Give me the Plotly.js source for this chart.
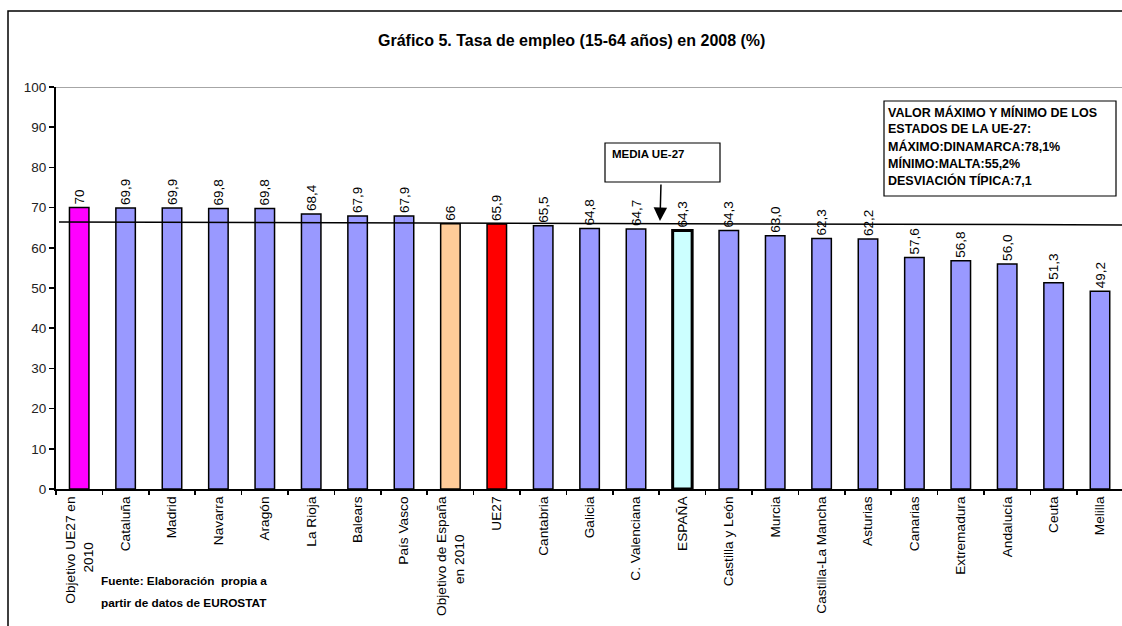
<!DOCTYPE html>
<html>
<head>
<meta charset="utf-8">
<script src="https://cdn.plot.ly/plotly-3.0.1.min.js"></script>
<style>html,body{margin:0;padding:0;background:#fff;overflow:hidden}</style>
</head>
<body>
<div id="chart" style="width:1122px;height:626px"></div>
<script>
const NB = "\u00A0";
const categories = ["Objetivo UE27 en<br>2010" + NB.repeat(12),"Cataluña","Madrid","Navarra","Aragón","La Rioja","Balears","País Vasco","Objetivo de España<br>en 2010" + NB.repeat(10),"UE27","Cantabria","Galicia","C. Valenciana","ESPAÑA","Castilla y León","Murcia","Castilla-La Mancha","Asturias","Canarias","Extremadura","Andalucía","Ceuta","Melilla"];
const values = [70,69.9,69.9,69.8,69.8,68.4,67.9,67.9,66,65.9,65.5,64.8,64.7,64.3,64.3,63.0,62.3,62.2,57.6,56.8,56.0,51.3,49.2];
const valueLabels = ["70","69,9","69,9","69,8","69,8","68,4","67,9","67,9","66","65,9","65,5","64,8","64,7","64,3","64,3","63,0","62,3","62,2","57,6","56,8","56,0","51,3","49,2"];
const mediaLine = [66.4, 65.7];
const yTicks = [0,10,20,30,40,50,60,70,80,90,100];
const titleText = "Gráfico 5. Tasa de empleo (15-64 años) en 2008 (%)";
const boxLines = ["VALOR MÁXIMO Y MÍNIMO DE LOS","ESTADOS DE LA UE-27:","MÁXIMO:DINAMARCA:78,1%","MÍNIMO:MALTA:55,2%","DESVIACIÓN TÍPICA:7,1"];
const sourceLines = ["Fuente: Elaboración  propia a","partir de datos de EUROSTAT"];

const colors = categories.map((c,i) => {
  if (i === 0) return "#FF00FF";
  if (c.startsWith("Objetivo de España")) return "#FFCC99";
  if (c === "UE27") return "#FF0000";
  if (c === "ESPAÑA") return "#CCFFFF";
  return "#9999FF";
});
const lineWidths = categories.map(c => c === "ESPAÑA" ? 3 : 1.5);

const W = 1122, H = 626, ML = 56, MR = 0, MT = 87, MB = 137;
const PW = W - ML - MR, PH = H - MT - MB;
const px = x => (x - ML) / PW;
const py = y => (H - MB - y) / PH;
const FONT = "'Liberation Sans', Arial, sans-serif";

const trace = {
  type: "bar",
  x: categories.map((c,i)=>i),
  y: values,
  width: 0.42,
  marker: {color: colors, line: {color: "#000", width: lineWidths}},
  text: valueLabels,
  textposition: "outside",
  textangle: -90,
  constraintext: "none",
  cliponaxis: false,
  textfont: {family: FONT, size: 13.5, color: "#000"},
  hoverinfo: "skip"
};

const annotations = [
  {text: "<b>" + titleText + "</b>", xref: "paper", yref: "paper", x: px(571), y: py(41), xanchor: "center", yanchor: "middle", showarrow: false, font: {family: FONT, size: 16, color: "#000"}},
  {text: "<b>MEDIA UE-27</b>", xref: "paper", yref: "paper", x: px(610), y: py(154), xanchor: "left", yanchor: "middle", showarrow: false, font: {family: FONT, size: 11.5, color: "#000"}},
  {text: "", xref: "paper", yref: "paper", x: px(660), y: py(221), ax: px(661), ay: py(183), axref: "paper", ayref: "paper", showarrow: true, arrowhead: 2, arrowsize: 1.8, arrowwidth: 1.5, arrowcolor: "#000"}
];
boxLines.forEach((t,i) => annotations.push({text: "<b>" + t + "</b>", xref: "paper", yref: "paper", x: px(886), y: py(112 + i*17), xanchor: "left", yanchor: "middle", showarrow: false, font: {family: FONT, size: 12.5, color: "#000"}}));
sourceLines.forEach((t,i) => annotations.push({text: "<b>" + t + "</b>", xref: "paper", yref: "paper", x: px(99), y: py(581 + i*22), xanchor: "left", yanchor: "middle", showarrow: false, font: {family: FONT, size: 11.8, color: "#000"}}));

const shapes = [
  {type: "rect", xref: "paper", yref: "paper", x0: px(8), x1: px(1135), y0: py(11), y1: py(640), line: {color: "#000", width: 1.5}, fillcolor: "rgba(0,0,0,0)", layer: "below"},
  {type: "line", xref: "paper", yref: "y", x0: 0, x1: 1, y0: 100, y1: 100, line: {color: "#888", width: 1.5}},
  {type: "line", xref: "paper", yref: "y", x0: px(59), x1: 1, y0: mediaLine[0], y1: mediaLine[1], line: {color: "#000", width: 1.5}},
  {type: "rect", xref: "paper", yref: "paper", x0: px(605), x1: px(720), y0: py(143), y1: py(182), line: {color: "#000", width: 1.2}, fillcolor: "#fff"},
  {type: "rect", xref: "paper", yref: "paper", x0: px(884), x1: px(1116), y0: py(101), y1: py(196), line: {color: "#000", width: 1.2}, fillcolor: "#fff"}
];

const layout = {
  width: W, height: H,
  margin: {l: ML, r: MR, t: MT, b: MB, pad: 0},
  paper_bgcolor: "#fff", plot_bgcolor: "#fff",
  showlegend: false,
  xaxis: {
    type: "linear",
    range: [-0.5, -0.5 + PW / 46.4],
    tickmode: "array",
    tickvals: categories.map((c,i)=>i),
    ticktext: categories,
    tickangle: -90,
    ticks: "", showgrid: false, zeroline: false,
    showline: true, linecolor: "#000", linewidth: 2,
    tickfont: {family: FONT, size: 13.7, color: "#000"},
    automargin: false
  },
  yaxis: {
    range: [0, 100],
    tickmode: "array", tickvals: yTicks,
    ticks: "outside", ticklen: 5, tickwidth: 1.5, tickcolor: "#000",
    showgrid: false, zeroline: false,
    showline: true, linecolor: "#000", linewidth: 2,
    tickfont: {family: FONT, size: 13.5, color: "#222"},
    automargin: false
  },
  xaxis2: {
    overlaying: "x", anchor: "y", side: "bottom", matches: "x",
    tickmode: "array",
    tickvals: categories.map((c,i)=>i - 0.5),
    ticktext: categories.map(()=>""),
    ticks: "outside", ticklen: 5, tickwidth: 1.5, tickcolor: "#000",
    showgrid: false, zeroline: false, showline: false
  },
  annotations: annotations,
  shapes: shapes,
  font: {family: FONT}
};

const dummy = {type: "scatter", x: [0], y: [0], xaxis: "x2", mode: "markers", marker: {opacity: 0}, hoverinfo: "skip"};

Plotly.newPlot("chart", [trace, dummy], layout, {staticPlot: true, displayModeBar: false});
</script>
</body>
</html>
